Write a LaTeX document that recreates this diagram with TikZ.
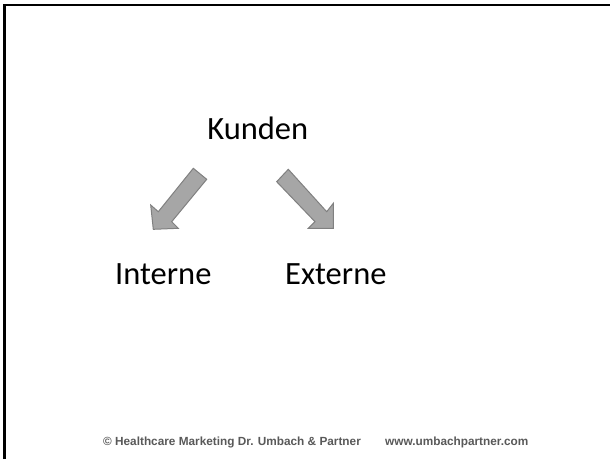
\documentclass[tikz,border=0pt]{standalone}
\usepackage{fontspec}
\setmainfont{Carlito}
\newfontfamily\footfont{Liberation Sans}
\begin{document}
\begin{tikzpicture}[x=1pt,y=-1pt,
  lbl/.style={font=\fontsize{32.5}{37}\selectfont, anchor=base, inner sep=0pt},
  foot/.style={font=\footfont\bfseries\fontsize{11.8}{14}\selectfont, text=black!65, anchor=base west, inner sep=0pt},
  blockarrow/.style={fill=black!35, draw=black!50, line width=1pt, line join=miter}]
\useasboundingbox (0,0) rectangle (610,459);
\fill[white] (0,0) rectangle (610,459);
\draw[line width=2.5pt] (4.5,459) -- (4.5,5.2) -- (610,5.2);
\node[lbl] (kunden) at (257.8,139) {Kunden};
\node[lbl] (interne) at (163.3,284) {Interne};
\node[lbl] (externe) at (335.8,284) {Externe};
% left block arrow
\draw[blockarrow] (193.3,168.3) -- (206.7,179.3) -- (171.7,221.7) -- (178.3,228.3) -- (153.3,229.3) -- (150.7,205) -- (158.3,211.7) -- cycle;
% right block arrow
\draw[blockarrow] (288.3,169.3) -- (326.7,211.7) -- (333.3,203.3) -- (333.3,228.3) -- (308.3,228.3) -- (315,221.7) -- (276.7,181.7) -- cycle;
\node[foot] (copy) at (103,445) {© Healthcare Marketing Dr. Umbach \& Partner};
\node[foot] (www) at (385,445) {www.umbachpartner.com};
\end{tikzpicture}
\end{document}
